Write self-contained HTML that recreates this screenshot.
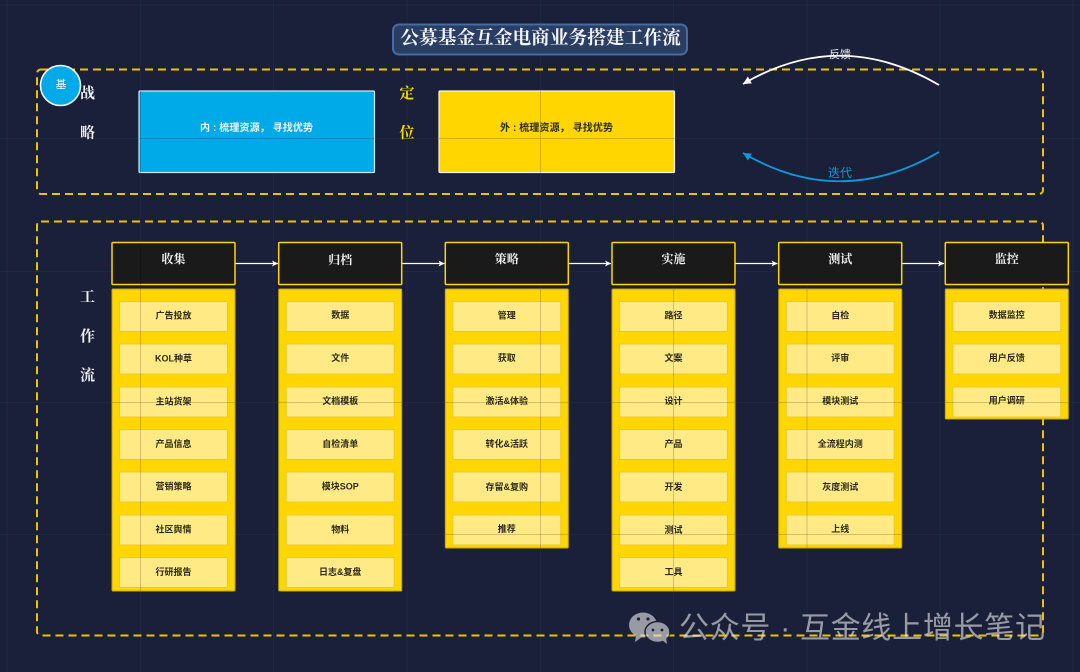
<!DOCTYPE html>
<html lang="zh">
<head>
<meta charset="utf-8">
<style>
html,body{margin:0;padding:0;background:#1a2039;}
svg{display:block;filter:blur(0.35px);}
text{text-anchor:middle;dominant-baseline:central;}
.s{font-family:"Liberation Serif","Noto Serif CJK SC",serif;}
.a{font-family:"Liberation Sans","Noto Sans CJK SC",sans-serif;}
.it{font-family:"Liberation Sans","Noto Sans CJK SC",sans-serif;font-size:9px;font-weight:700;fill:#2c2a18;}
.hd{font-family:"Liberation Sans","Noto Serif CJK SC",serif;font-size:12px;font-weight:700;fill:#f2f2f2;}
.side{font-family:"Liberation Serif","Noto Serif CJK SC",serif;font-size:15px;font-weight:700;fill:#f0f0f0;}
.h{fill:#1a1a1a;stroke:#ffd600;stroke-width:1.5;}
.b{fill:#ffd600;stroke:#c9a400;stroke-width:1;}
.i{fill:#ffea85;stroke:#ebc92a;stroke-width:1;}
.c{fill:none;stroke:#fff;stroke-width:1.2;}
</style>
</head>
<body>
<svg width="1080" height="672" viewBox="0 0 1080 672" xmlns="http://www.w3.org/2000/svg">
<defs>
<marker id="mw" markerWidth="8" markerHeight="8" refX="6" refY="3" orient="auto" markerUnits="userSpaceOnUse"><path d="M0,0L6,3L0,6L1.5,3Z" fill="#fff"/></marker>
<marker id="mW" markerWidth="10" markerHeight="10" refX="8" refY="4" orient="auto" markerUnits="userSpaceOnUse"><path d="M0,0L8,4L0,8Z" fill="#fff"/></marker>
<marker id="mb" markerWidth="10" markerHeight="10" refX="8" refY="4" orient="auto" markerUnits="userSpaceOnUse"><path d="M0,0L8,4L0,8Z" fill="#0a9bdc"/></marker>
</defs>
<rect width="1080" height="672" fill="#1a2039"/>

<!-- faint grid on background -->
<g stroke="#5a8aaa" stroke-opacity="0.07" stroke-width="1">
<path d="M7,0V672M140.5,0V672M273.5,0V672M407,0V672M540.5,0V672M673.5,0V672M807,0V672M940,0V672M1073,0V672"/>
<path d="M0,5H1080M0,138.5H1080M0,271.5H1080M0,402.5H1080M0,534.5H1080"/>
</g>

<!-- dashed frames -->
<rect x="37" y="69.5" width="1006" height="124.5" rx="4" fill="none" stroke="#ecc206" stroke-width="2" stroke-dasharray="8 5"/>
<rect x="37" y="221.5" width="1006" height="414" rx="4" fill="none" stroke="#ecc206" stroke-width="2" stroke-dasharray="8 5"/>

<!-- title -->
<rect x="393" y="24.5" width="294" height="30" rx="6" fill="#2a3d63" stroke="#466ba0" stroke-width="2"/>
<text class="s" x="540.5" y="38.5" font-size="18.7" font-weight="700" fill="#f2f4f8">公募基金互金电商业务搭建工作流</text>

<!-- badge -->
<circle cx="60.5" cy="85.5" r="20" fill="#00a9e8" stroke="#f4f6f8" stroke-width="1.6"/>
<text class="a" x="61" y="85" font-size="11" fill="#fff">基</text>

<!-- strategy labels -->
<text class="side" x="87.5" y="94">战</text>
<text class="side" x="87.5" y="133.5">略</text>
<text class="side" x="407" y="94" style="fill:#ffd600">定</text>
<text class="side" x="407" y="133.5" style="fill:#ffd600">位</text>

<rect x="139" y="91" width="235.5" height="81.5" rx="1" fill="#00a9e8" stroke="#d6e4ec" stroke-width="1.2"/>
<text class="it" x="256.5" y="128.5" textLength="113" style="font-size:10px;fill:#eefaff">内 : 梳理资源， 寻找优势</text>
<rect x="439" y="91" width="235.5" height="81.5" rx="1" fill="#ffd600" stroke="#f4f4ee" stroke-width="1.2"/>
<text class="it" x="556.5" y="128.5" textLength="113" style="font-size:10px">外 : 梳理资源， 寻找优势</text>

<!-- curved arrows -->
<path d="M939,85 Q840,27 743,84" fill="none" stroke="#fff" stroke-width="1.8" marker-end="url(#mW)"/>
<text class="a" x="840" y="55" font-size="11" fill="#e8e8e8">反馈</text>
<path d="M939,152 Q840,210 743,153" fill="none" stroke="#0a9bdc" stroke-width="1.8" marker-end="url(#mb)"/>
<text class="a" x="840" y="173" font-size="12" fill="#0a9bdc">迭代</text>

<!-- workflow side label -->
<text class="side" x="87.5" y="297.5">工</text>
<text class="side" x="87.5" y="337">作</text>
<text class="side" x="87.5" y="376">流</text>

<!-- connectors -->
<path class="c" d="M235,263.5H278" marker-end="url(#mw)"/>
<path class="c" d="M401.5,263.5H444.5" marker-end="url(#mw)"/>
<path class="c" d="M568,263.5H611" marker-end="url(#mw)"/>
<path class="c" d="M734.5,263.5H777.5" marker-end="url(#mw)"/>
<path class="c" d="M901,263.5H944" marker-end="url(#mw)"/>

<!-- column 1 -->
<rect class="h" x="112" y="242.5" width="123" height="42" rx="1"/>
<text class="hd" x="173.5" y="259">收集</text>
<rect class="b" x="112" y="289" width="123" height="302" rx="1"/>
<rect class="i" x="119.5" y="301.5" width="108" height="30"/><text class="it" x="173.5" y="315.5">广告投放</text>
<rect class="i" x="119.5" y="344" width="108" height="30"/><text class="it" x="173.5" y="358.5">KOL种草</text>
<rect class="i" x="119.5" y="387" width="108" height="30"/><text class="it" x="173.5" y="401.5">主站货架</text>
<rect class="i" x="119.5" y="429.5" width="108" height="30"/><text class="it" x="173.5" y="444">产品信息</text>
<rect class="i" x="119.5" y="472" width="108" height="30"/><text class="it" x="173.5" y="486.5">营销策略</text>
<rect class="i" x="119.5" y="515" width="108" height="30"/><text class="it" x="173.5" y="529.5">社区舆情</text>
<rect class="i" x="119.5" y="557.5" width="108" height="30"/><text class="it" x="173.5" y="572">行研报告</text>

<!-- column 2 -->
<rect class="h" x="278.7" y="242.5" width="123" height="42" rx="1"/>
<text class="hd" x="340.2" y="260">归档</text>
<rect class="b" x="278.7" y="289" width="123" height="302" rx="1"/>
<rect class="i" x="286.2" y="301.5" width="108" height="30"/><text class="it" x="340.2" y="315">数据</text>
<rect class="i" x="286.2" y="344" width="108" height="30"/><text class="it" x="340.2" y="358">文件</text>
<rect class="i" x="286.2" y="387" width="108" height="30"/><text class="it" x="340.2" y="401">文档模板</text>
<rect class="i" x="286.2" y="429.5" width="108" height="30"/><text class="it" x="340.2" y="444">自检清单</text>
<rect class="i" x="286.2" y="472" width="108" height="30"/><text class="it" x="340.2" y="486.5">模块SOP</text>
<rect class="i" x="286.2" y="515" width="108" height="30"/><text class="it" x="340.2" y="529.5">物料</text>
<rect class="i" x="286.2" y="557.5" width="108" height="30"/><text class="it" x="340.2" y="572">日志&amp;复盘</text>

<!-- column 3 -->
<rect class="h" x="445.3" y="242.5" width="123" height="42" rx="1"/>
<text class="hd" x="506.8" y="259">策略</text>
<rect class="b" x="445.3" y="289" width="123" height="259" rx="1"/>
<rect class="i" x="452.8" y="301.5" width="108" height="30"/><text class="it" x="506.8" y="315.5">管理</text>
<rect class="i" x="452.8" y="344" width="108" height="30"/><text class="it" x="506.8" y="358">获取</text>
<rect class="i" x="452.8" y="387" width="108" height="30"/><text class="it" x="506.8" y="401">激活&amp;体验</text>
<rect class="i" x="452.8" y="429.5" width="108" height="30"/><text class="it" x="506.8" y="444">转化&amp;活跃</text>
<rect class="i" x="452.8" y="472" width="108" height="30"/><text class="it" x="506.8" y="487">存留&amp;复购</text>
<rect class="i" x="452.8" y="515" width="108" height="30"/><text class="it" x="506.8" y="529">推荐</text>

<!-- column 4 -->
<rect class="h" x="612" y="242.5" width="123" height="42" rx="1"/>
<text class="hd" x="673.5" y="259">实施</text>
<rect class="b" x="612" y="289" width="123" height="302" rx="1"/>
<rect class="i" x="619.5" y="301.5" width="108" height="30"/><text class="it" x="673.5" y="315.5">路径</text>
<rect class="i" x="619.5" y="344" width="108" height="30"/><text class="it" x="673.5" y="358">文案</text>
<rect class="i" x="619.5" y="387" width="108" height="30"/><text class="it" x="673.5" y="401">设计</text>
<rect class="i" x="619.5" y="429.5" width="108" height="30"/><text class="it" x="673.5" y="444">产品</text>
<rect class="i" x="619.5" y="472" width="108" height="30"/><text class="it" x="673.5" y="487">开发</text>
<rect class="i" x="619.5" y="515" width="108" height="30"/><text class="it" x="673.5" y="530">测试</text>
<rect class="i" x="619.5" y="557.5" width="108" height="30"/><text class="it" x="673.5" y="572">工具</text>

<!-- column 5 -->
<rect class="h" x="778.7" y="242.5" width="123" height="42" rx="1"/>
<text class="hd" x="840.2" y="259">测试</text>
<rect class="b" x="778.7" y="289" width="123" height="259" rx="1"/>
<rect class="i" x="786.2" y="301.5" width="108" height="30"/><text class="it" x="840.2" y="315.5">自检</text>
<rect class="i" x="786.2" y="344" width="108" height="30"/><text class="it" x="840.2" y="358">评审</text>
<rect class="i" x="786.2" y="387" width="108" height="30"/><text class="it" x="840.2" y="401">模块测试</text>
<rect class="i" x="786.2" y="429.5" width="108" height="30"/><text class="it" x="840.2" y="444">全流程内测</text>
<rect class="i" x="786.2" y="472" width="108" height="30"/><text class="it" x="840.2" y="487">灰度测试</text>
<rect class="i" x="786.2" y="515" width="108" height="30"/><text class="it" x="840.2" y="529">上线</text>

<!-- column 6 -->
<rect class="h" x="945.3" y="242.5" width="123" height="42" rx="1"/>
<text class="hd" x="1006.8" y="259">监控</text>
<rect class="b" x="945.3" y="289" width="123" height="130" rx="1"/>
<rect class="i" x="952.8" y="301.5" width="108" height="30"/><text class="it" x="1006.8" y="315">数据监控</text>
<rect class="i" x="952.8" y="344" width="108" height="30"/><text class="it" x="1006.8" y="358">用户反馈</text>
<rect class="i" x="952.8" y="387" width="108" height="30"/><text class="it" x="1006.8" y="400.5">用户调研</text>

<!-- grid showing through light shapes -->
<g stroke="#000" stroke-opacity="0.18" stroke-width="1">
<path d="M140.5,91V173M540.5,91V173M139,138.5H375M439,138.5H675"/>
<path d="M140.5,243V591M540.5,289V548M673.5,289V591M807,289V548"/>
<path d="M112,402.5H235M278.7,402.5H401.7M445.3,402.5H568.3M612,402.5H735M778.7,402.5H901.7M945.3,402.5H1068.3M445.3,534.5H568.3M612,534.5H735M778.7,534.5H901.7"/>
</g>

<!-- watermark -->
<g opacity="0.62">
<ellipse cx="643" cy="625" rx="14" ry="12.5" fill="#e6e6e6"/>
<path d="M636,635L635,642L642,637Z" fill="#e6e6e6"/>
<ellipse cx="657.5" cy="632" rx="12.5" ry="10.5" fill="#e6e6e6" stroke="#1a2039" stroke-width="1.5"/>
<path d="M662,640L667,644L666,637Z" fill="#e6e6e6"/>
<circle cx="638.5" cy="619" r="1.6" fill="#1a2039"/><circle cx="648" cy="619" r="1.6" fill="#1a2039"/>
<circle cx="653" cy="630" r="1.4" fill="#1a2039"/><circle cx="662" cy="630" r="1.4" fill="#1a2039"/>
<text class="a" x="862" y="628.5" font-size="30" fill="#e6e6e6" textLength="366" lengthAdjust="spacing">公众号 · 互金线上增长笔记</text>
</g>
</svg>
</body>
</html>
